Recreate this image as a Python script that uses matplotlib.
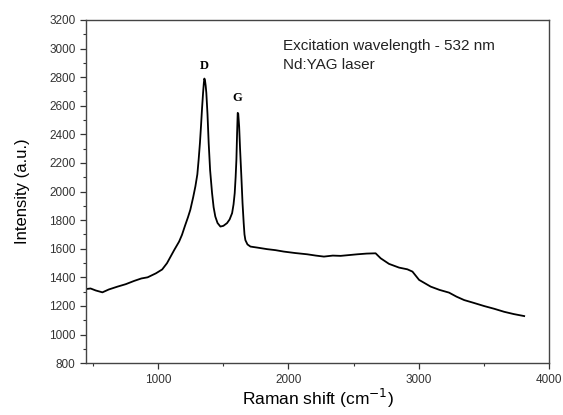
# plot.py
# Raman spectrum with D and G bands, redrawn from the reference picture.

import matplotlib
matplotlib.use("Agg")
import matplotlib.pyplot as plt
from matplotlib.ticker import MultipleLocator

# values
raman_shift = [
    446, 480, 520, 571, 620, 687, 750, 815, 870, 918, 982, 1030, 1067,
    1123, 1160, 1182, 1205, 1228, 1246, 1268, 1285, 1300, 1310, 1320,
    1328, 1336, 1344, 1350, 1354, 1359, 1364, 1369, 1378, 1387, 1398,
    1413, 1425, 1438, 1455, 1477, 1500, 1528, 1548, 1567, 1578, 1587,
    1594, 1600, 1605, 1610, 1614, 1621, 1628, 1638, 1647, 1656, 1662,
    1669, 1685, 1708, 1760, 1836, 1900, 1964, 2050, 2144, 2210, 2272,
    2340, 2400, 2470, 2528, 2600, 2669, 2708, 2772, 2849, 2913, 2952,
    3003, 3092, 3160, 3233, 3290, 3349, 3420, 3503, 3580, 3656, 3730,
    3810,
]
intensity = [
    1318, 1322, 1308, 1295, 1315, 1335, 1352, 1375, 1392, 1400, 1428, 1455, 1499,
    1592, 1650, 1697, 1760, 1820, 1872, 1960, 2036, 2120, 2223, 2340,
    2456, 2580, 2690, 2760, 2790, 2775, 2740, 2690, 2540, 2340, 2150,
    1989, 1890, 1825, 1780, 1755, 1760, 1779, 1805, 1849, 1910, 1989,
    2100, 2223, 2400, 2550, 2545, 2456, 2300, 2106, 1920, 1779, 1700,
    1660, 1630, 1615, 1608, 1597, 1590, 1580, 1570, 1561, 1552, 1545,
    1552, 1550, 1556, 1561, 1566, 1568, 1533, 1494, 1468, 1456, 1440,
    1382, 1335, 1312, 1293, 1265, 1241, 1222, 1199, 1180, 1159, 1143,
    1129,
]

band_names = ["D", "G"]
band_pos = [1354, 1610]
band_label_y = [2876, 2657]

note_lines = ["Excitation wavelength - 532 nm", "Nd:YAG laser"]

plt.rcParams["font.family"] = ["Liberation Sans", "DejaVu Sans"]

fig = plt.figure(figsize=(5.63, 4.15), dpi=100)
ax = fig.add_axes([0.153, 0.125, 0.822, 0.827])

ax.plot(raman_shift, intensity, color="black", lw=1.3)

# band labels in a serif bold face, like the original
for name, xb, yb in zip(band_names, band_pos, band_label_y):
    ax.text(xb, yb, name, ha="center", va="center", fontsize=9,
            fontweight="bold", family=["Liberation Serif", "DejaVu Serif"])

ax.text(0.425, 0.945, "\n".join(note_lines), transform=ax.transAxes,
        ha="left", va="top", fontsize=11, linespacing=1.45, color="#222222")

ax.set_xlim(446, 4000)
ax.set_ylim(800, 3200)
ax.xaxis.set_major_locator(MultipleLocator(1000))
ax.xaxis.set_minor_locator(MultipleLocator(500))
ax.yaxis.set_major_locator(MultipleLocator(200))
ax.yaxis.set_minor_locator(MultipleLocator(100))

ax.tick_params(which="major", direction="out", length=4, width=0.9,
               labelsize=8.5, colors="#333333", top=False, right=False)
ax.tick_params(which="minor", direction="out", length=2.5, width=0.8,
               colors="#333333", top=False, right=False)

for side in ax.spines.values():
    side.set_color("#444444")
    side.set_linewidth(1.0)

ax.set_xlabel("Raman shift (cm$^{-1}$)", fontsize=12.5, labelpad=1)
ax.set_ylabel("Intensity (a.u.)", fontsize=12, labelpad=14)

fig.savefig("out.png", dpi=100)
